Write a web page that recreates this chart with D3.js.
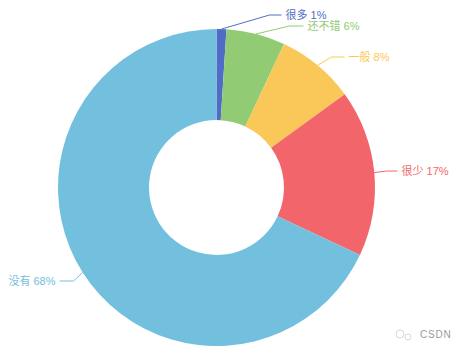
<!DOCTYPE html>
<html>
<head>
<meta charset="utf-8">
<script src="https://cdn.jsdelivr.net/npm/d3@7"></script>
<style>
  html, body { margin: 0; padding: 0; background: #fff; }
  svg { display: block; }
  text { font-family: "Liberation Sans", "Noto Sans CJK SC", sans-serif; }
</style>
</head>
<body>
<div id="chart"></div>
<script>
const categories = ["很多", "还不错", "一般", "很少", "没有"];
const values = [1, 6, 8, 17, 68];
const colors = ["#516cc6", "#91cc75", "#fac858", "#f2666b", "#73c0de"];

const width = 464, height = 353;
const cx = 216.5, cy = 187.5;
const outerR = 158.5, innerR = 67.5;

// leader line ends, relative to chart centre: elbow x, elbow y, end x
const labelSpots = [
    [53, -172.5, 65],
    [73, -161.5, 87],
    [115, -130.5, 128],
    [170, -16.5, 181],
    [-143, 93.5, -157]
];

let svg = d3.select("#chart").append("svg")
    .attr("width", width)
    .attr("height", height);

let g = svg.append("g")
    .attr("transform", "translate(" + cx + "," + cy + ")");

let pie = d3.pie().sort(null).value(d => d);
let arc = d3.arc().innerRadius(innerR).outerRadius(outerR);
let arcs = pie(values);

g.selectAll("path.slice")
    .data(arcs)
    .join("path")
    .attr("class", "slice")
    .attr("d", arc)
    .attr("fill", (d, i) => colors[i]);

let line = d3.line();

g.selectAll("path.leader")
    .data(arcs)
    .join("path")
    .attr("class", "leader")
    .attr("fill", "none")
    .attr("stroke", (d, i) => colors[i])
    .attr("stroke-width", 1)
    .attr("d", (d, i) => {
        let mid = (d.startAngle + d.endAngle) / 2;
        let start = [outerR * Math.sin(mid), -outerR * Math.cos(mid)];
        let s = labelSpots[i];
        return line([start, [s[0], s[1]], [s[2], s[1]]]);
    });

g.selectAll("text.label")
    .data(arcs)
    .join("text")
    .attr("class", "label")
    .attr("x", (d, i) => labelSpots[i][2] + (labelSpots[i][2] > 0 ? 4 : -4))
    .attr("y", (d, i) => labelSpots[i][1])
    .attr("dy", "0.35em")
    .attr("text-anchor", (d, i) => labelSpots[i][2] > 0 ? "start" : "end")
    .attr("font-size", 11)
    .attr("fill", (d, i) => colors[i])
    .text((d, i) => categories[i] + " " + values[i] + "%");

// watermark
let mark = svg.append("g").attr("fill", "none").attr("stroke", "#d8d8d8");
mark.append("circle").attr("cx", 400).attr("cy", 334).attr("r", 4);
mark.append("circle").attr("cx", 408).attr("cy", 337).attr("r", 3);
svg.append("text")
    .attr("x", 420)
    .attr("y", 338)
    .attr("font-size", 10)
    .attr("letter-spacing", 0.8)
    .attr("fill", "#9a9a9a")
    .text("CSDN");
</script>
</body>
</html>
